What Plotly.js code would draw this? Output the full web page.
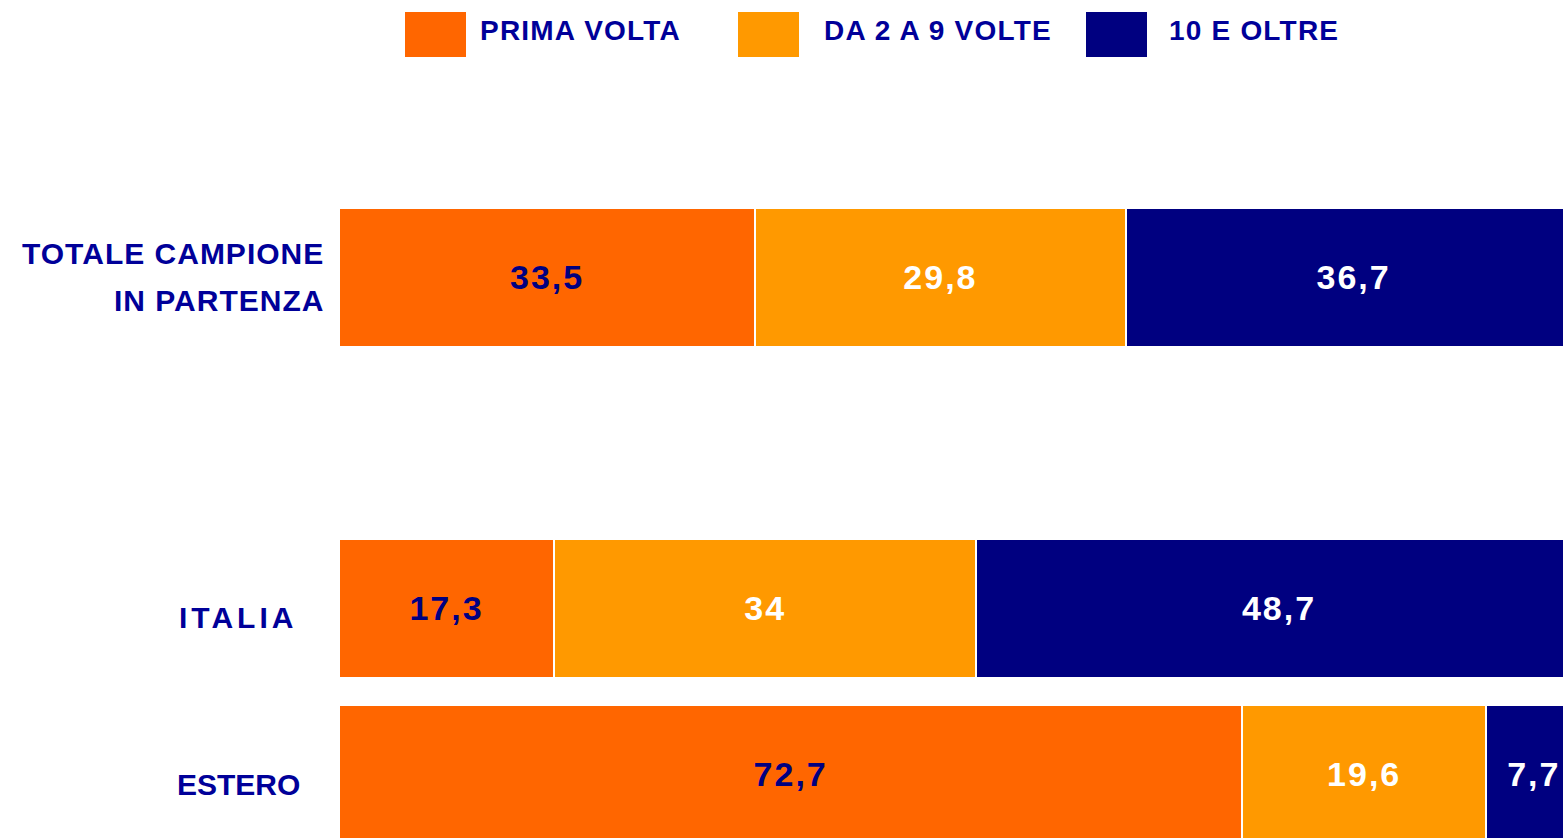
<!DOCTYPE html>
<html>
<head>
<meta charset="utf-8">
<script src="https://cdn.plot.ly/plotly-3.0.1.min.js"></script>
<style>
  html, body { margin: 0; padding: 0; background: #ffffff; }
  #chart { width: 1563px; height: 838px; }
  text.bartext { letter-spacing: 2px; }
  text.annotation-text { letter-spacing: 1px; }
</style>
</head>
<body>
<div id="chart"></div>
<script>
// ---- data ----
const categories = ["TOTALE CAMPIONE<br>IN PARTENZA", " ", "ITALIA", "ESTERO"];
const seriesNames = ["PRIMA VOLTA", "DA 2 A 9 VOLTE", "10 E OLTRE"];
const primaVolta = [33.5, null, 17.3, 72.7];
const da2a9Volte = [29.8, null, 34, 19.6];
const dieciEOltre = [36.7, null, 48.7, 7.7];

// ---- styling ----
const colors = ["#FF6600", "#FF9900", "#000080"];
const textColors = ["#000080", "#FFFFFF", "#FFFFFF"];
const labelColor = "#000099";
const FONT = "'Liberation Sans', Arial, sans-serif";

const W = 1563, H = 838;
const M = { l: 339, r: 0, t: 100, b: 0 };
const plotW = W - M.l - M.r, plotH = H - M.t - M.b;
const px2x = px => (px - M.l) / plotW;
const px2y = py => (H - M.b - py) / plotH;

const fmt = v => (v === null ? "" : String(v).replace(".", ","));

const seriesValues = [primaVolta, da2a9Volte, dieciEOltre];
const traces = seriesValues.map((vals, i) => ({
  type: "bar",
  orientation: "h",
  name: seriesNames[i],
  y: categories,
  x: vals,
  text: vals.map(fmt),
  textposition: "inside",
  insidetextanchor: "middle",
  textangle: 0,
  constraintext: "none",
  textfont: { family: FONT, size: 34, color: textColors[i], weight: "bold" },
  marker: { color: colors[i], line: { color: "#FFFFFF", width: 2 } },
  hoverinfo: "skip",
  showlegend: false
}));

// category labels as annotations (right aligned left of the plot), one per line
const labelRight = { "TOTALE CAMPIONE<br>IN PARTENZA": 326, "ITALIA": 299, "ESTERO": 302 };
const labelShift = { "TOTALE CAMPIONE<br>IN PARTENZA": 0, "ITALIA": -9, "ESTERO": -11 };
const labelSpacing = { "TOTALE CAMPIONE<br>IN PARTENZA": 1, "ITALIA": 4, "ESTERO": 0 };
const annotations = [];
categories.forEach(c => {
  if (c.trim() === "") return;
  const lines = c.split("<br>");
  const lineGap = 47;
  lines.forEach((ln, k) => {
    annotations.push({
      xref: "paper", yref: "y",
      x: px2x(labelRight[c]), y: c,
      xanchor: "right", yanchor: "middle", align: "right",
      text: '<span style="letter-spacing:' + labelSpacing[c] + 'px">' + ln + '</span>',
      showarrow: false,
      yshift: labelShift[c] - (k - (lines.length - 1) / 2) * lineGap,
      font: { family: FONT, size: 30, color: labelColor, weight: "bold" }
    });
  });
});

// legend built from series names/colours
const legendSwatchX = [405, 738, 1086];
const legendTextX = [478, 822, 1167];
const shapes = [];
seriesNames.forEach((n, i) => {
  shapes.push({
    type: "rect", xref: "paper", yref: "paper",
    x0: px2x(legendSwatchX[i]), x1: px2x(legendSwatchX[i] + 61),
    y0: px2y(57), y1: px2y(12),
    fillcolor: colors[i], line: { width: 0 }
  });
  annotations.push({
    xref: "paper", yref: "paper",
    x: px2x(legendTextX[i]), y: px2y(30),
    xanchor: "left", yanchor: "middle",
    text: '<span style="letter-spacing:1.2px">' + n + '</span>', showarrow: false,
    font: { family: FONT, size: 28, color: labelColor, weight: "bold" }
  });
});

const layout = {
  width: W, height: H,
  margin: M,
  paper_bgcolor: "#FFFFFF",
  plot_bgcolor: "#FFFFFF",
  barmode: "stack",
  bargap: 0.165,
  showlegend: false,
  xaxis: { range: [0, 98.5], visible: false, fixedrange: true },
  yaxis: {
    type: "category",
    categoryorder: "array",
    categoryarray: categories.slice().reverse(),
    range: [-0.387, 4.072],
    showticklabels: false,
    showgrid: false, zeroline: false, showline: false, ticks: "",
    fixedrange: true
  },
  shapes: shapes,
  annotations: annotations
};

Plotly.newPlot("chart", traces, layout, { displayModeBar: false, staticPlot: true });
</script>
</body>
</html>
